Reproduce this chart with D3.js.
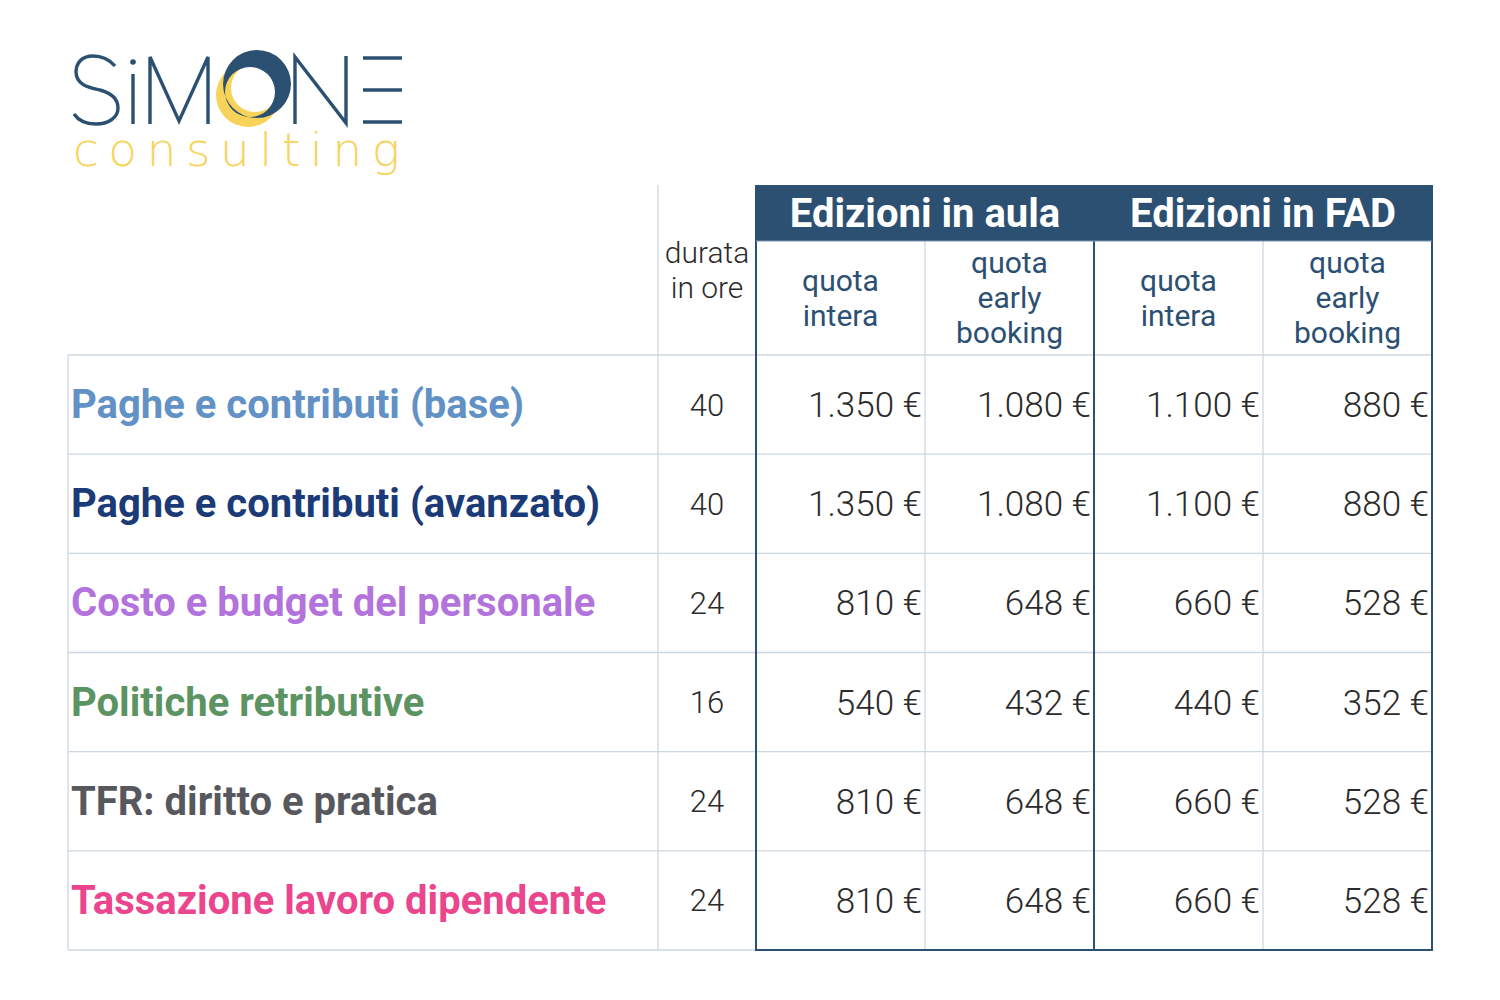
<!DOCTYPE html>
<html><head><meta charset="utf-8">
<script src="https://cdn.jsdelivr.net/npm/d3@7"></script>
<style>html,body{margin:0;padding:0;background:#fff;}svg{display:block;}</style>
</head><body>
<svg id="chart" width="1500" height="1000"></svg>
<script>
const courses = ["Paghe e contributi (base)","Paghe e contributi (avanzato)","Costo e budget del personale","Politiche retributive","TFR: diritto e pratica","Tassazione lavoro dipendente"];
const courseColors = ["#6291c6","#1b3a78","#b373dc","#5b9462","#57585d","#ea458d"];
const durata = [40,40,24,16,24,24];
const aulaIntera = [1350,1350,810,540,810,810];
const aulaEarly = [1080,1080,648,432,648,648];
const fadIntera = [1100,1100,660,440,660,660];
const fadEarly = [880,880,528,352,528,528];
const groups = ["Edizioni in aula","Edizioni in FAD"];
const subHeaders = [["quota","intera"],["quota","early","booking"],["quota","intera"],["quota","early","booking"]];
const durataHeader = ["durata","in ore"];
const priceSeries = [aulaIntera, aulaEarly, fadIntera, fadEarly];

const NAVY = "#2c5072", GRID = "#ccd7e2";
const svg = d3.select("#chart");
const it = d3.formatLocale({decimal:",", thousands:".", grouping:[3], currency:["",""]});
const fmt = v => it.format(",.0f")(v) + " €";

// layout
const left = 68, labelRight = 658, durRight = 756, right = 1432;
const headTop = 185, bandBottom = 241, bodyTop = 355, bodyBottom = 950;
const y = d3.scaleBand().domain(d3.range(courses.length)).range([bodyTop, bodyBottom]);
const xc = d3.scaleBand().domain(d3.range(4)).range([durRight, right]);
const xg = d3.scaleBand().domain(d3.range(2)).range([durRight, right]);

// ---------- Logo ----------
const logo = svg.append("g");
const lw = 3.4;
logo.append("path").attr("d","M115,66 C108,58 99,56 93,56 C81,56 76,64 76,72 C76,86 92,88 100,90 C111,93 118,98 118,108 C118,118 108,124 96,124 C86,124 78,120 74,114")
  .attr("fill","none").attr("stroke",NAVY).attr("stroke-width",lw);
logo.append("line").attr("x1",133).attr("x2",133).attr("y1",74).attr("y2",124).attr("stroke",NAVY).attr("stroke-width",lw);
logo.append("circle").attr("cx",133).attr("cy",62).attr("r",2.8).attr("fill",NAVY);
logo.append("polyline").attr("points","150,124 150,57 179,121 208,57 208,124").attr("fill","none").attr("stroke",NAVY).attr("stroke-width",lw).attr("stroke-linejoin","miter");
logo.append("polyline").attr("points","295,124 295,57 346,123 346,56").attr("fill","none").attr("stroke",NAVY).attr("stroke-width",lw);
[58,90,122].forEach(yy => logo.append("line").attr("x1",363).attr("x2",402).attr("y1",yy).attr("y2",yy).attr("stroke",NAVY).attr("stroke-width",lw));
const circ = (cx,cy,r) => `M${cx-r},${cy} a${r},${r} 0 1,0 ${2*r},0 a${r},${r} 0 1,0 ${-2*r},0 Z`;
logo.append("path").attr("d", circ(248,95,32) + circ(255,88,24)).attr("fill","#f7d35a").attr("fill-rule","evenodd");
logo.append("path").attr("d", circ(257,84,34) + circ(250,92,25)).attr("fill",NAVY).attr("fill-rule","evenodd");
logo.append("text").attr("x",73).attr("y",166).text("consulting")
  .attr("font-family","DejaVu Sans").attr("font-weight",200).attr("font-size",47).attr("fill","#f7d35a")
  .attr("textLength",327).attr("lengthAdjust","spacing");

// ---------- Table ----------
const g = svg.append("g");
// header band
g.append("rect").attr("x",durRight).attr("y",headTop).attr("width",right-durRight).attr("height",bandBottom-headTop).attr("fill",NAVY);
g.append("line").attr("x1",xg(1)).attr("x2",xg(1)).attr("y1",headTop).attr("y2",bandBottom).attr("stroke","#5f7f9e").attr("stroke-width",1.2);
g.selectAll("text.group").data(groups).join("text").attr("class","group")
  .attr("x",(d,i)=>xg(i)+xg.bandwidth()/2).attr("y",227).attr("text-anchor","middle")
  .attr("font-family","Roboto").attr("font-weight",700).attr("font-size",40).attr("fill","#fff").text(d=>d);

// light grid
const hl = d3.range(courses.length+1).map(i => i<courses.length ? y(i) : bodyBottom);
g.selectAll("line.h").data(hl).join("line").attr("class","h")
  .attr("x1",left).attr("x2",right).attr("y1",d=>d).attr("y2",d=>d).attr("stroke",GRID).attr("stroke-width",1.3);
g.append("line").attr("x1",left).attr("x2",left).attr("y1",bodyTop).attr("y2",bodyBottom).attr("stroke",GRID).attr("stroke-width",1.3);
g.append("line").attr("x1",labelRight).attr("x2",labelRight).attr("y1",headTop).attr("y2",bodyBottom).attr("stroke",GRID).attr("stroke-width",1.3);
g.selectAll("line.vc").data([1,3]).join("line").attr("class","vc")
  .attr("x1",d=>xc(d)).attr("x2",d=>xc(d)).attr("y1",bandBottom).attr("y2",bodyBottom).attr("stroke",GRID).attr("stroke-width",1.3);

// dark borders
g.selectAll("line.vd").data([durRight, xg(1), right]).join("line").attr("class","vd")
  .attr("x1",d=>d).attr("x2",d=>d).attr("y1",headTop).attr("y2",bodyBottom+1).attr("stroke",NAVY).attr("stroke-width",2);
g.append("line").attr("x1",durRight-1).attr("x2",right+1).attr("y1",bodyBottom).attr("y2",bodyBottom).attr("stroke",NAVY).attr("stroke-width",2);
g.append("line").attr("x1",durRight).attr("x2",right).attr("y1",bandBottom).attr("y2",bandBottom).attr("stroke","#7f98b0").attr("stroke-width",1);

// durata header
const dh = g.append("text").attr("x",(labelRight+durRight)/2).attr("text-anchor","middle")
  .attr("font-family","Roboto").attr("font-weight",300).attr("font-size",30).attr("fill","#2b2b2b");
durataHeader.forEach((t,i)=>dh.append("tspan").attr("x",(labelRight+durRight)/2).attr("y",263+i*35).text(t));

// sub headers
subHeaders.forEach((lines,c)=>{
  const cx = xc(c)+xc.bandwidth()/2;
  const top = (bandBottom+bodyTop)/2 - (lines.length-1)*35/2 + 10;
  const t = g.append("text").attr("text-anchor","middle").attr("font-family","Roboto").attr("font-weight",400)
    .attr("font-size",30).attr("fill",NAVY);
  lines.forEach((l,i)=>t.append("tspan").attr("x",cx).attr("y",top+i*35).text(l));
});

// rows
const rows = g.selectAll("g.row").data(courses).join("g").attr("class","row");
rows.append("text").attr("x",71).attr("y",(d,i)=>y(i)+y.bandwidth()/2+13.5)
  .attr("font-family","Roboto").attr("font-weight",700).attr("font-size",40)
  .attr("fill",(d,i)=>courseColors[i]).text(d=>d);
rows.append("text").attr("x",(labelRight+durRight)/2).attr("y",(d,i)=>y(i)+y.bandwidth()/2+11)
  .attr("text-anchor","middle").attr("font-family","Roboto").attr("font-weight",300).attr("font-size",31)
  .attr("fill","#2b2b2b").text((d,i)=>durata[i]);
priceSeries.forEach((series,c)=>{
  g.selectAll("text.p"+c).data(series).join("text").attr("class","p"+c)
    .attr("x",xc(c)+xc.bandwidth()-3).attr("y",(d,i)=>y(i)+y.bandwidth()/2+12.5)
    .attr("text-anchor","end").attr("font-family","Roboto").attr("font-weight",300).attr("font-size",35)
    .attr("fill","#2b2b2b").text(d=>fmt(d));
});
</script>
</body></html>
